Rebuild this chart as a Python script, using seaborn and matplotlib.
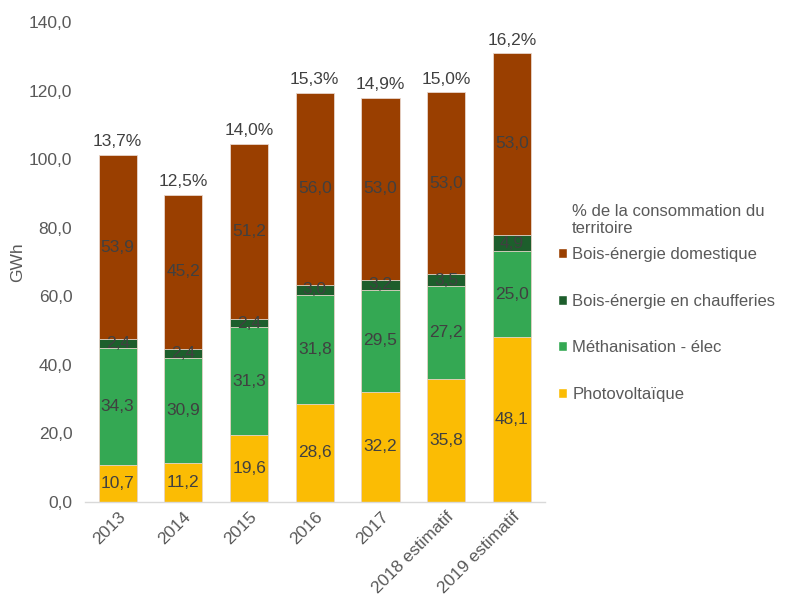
import numpy as np
import pandas as pd
import matplotlib
matplotlib.use("Agg")
import matplotlib.pyplot as plt
import seaborn as sns
from matplotlib.patches import Patch

years = ["2013", "2014", "2015", "2016", "2017", "2018 estimatif", "2019 estimatif"]
photovoltaique = [10.7, 11.2, 19.6, 28.6, 32.2, 35.8, 48.1]
methanisation = [34.3, 30.9, 31.3, 31.8, 29.5, 27.2, 25.0]
chaufferies = [2.4, 2.4, 2.4, 3.0, 3.2, 3.5, 4.9]
domestique = [53.9, 45.2, 51.2, 56.0, 53.0, 53.0, 53.0]
pct_labels = ["13,7%", "12,5%", "14,0%", "15,3%", "14,9%", "15,0%", "16,2%"]

series_names = ["Photovoltaïque", "Méthanisation - élec", "Bois-énergie en chaufferies", "Bois-énergie domestique"]
series_vals = [photovoltaique, methanisation, chaufferies, domestique]
colors = ["#FBBC04", "#34A853", "#1D5E2C", "#9A3F00"]

sns.set_style("white")
plt.rcParams["font.family"] = ["Liberation Sans", "DejaVu Sans"]

FS = 12.5
LFS = 12.0
fig = plt.figure(figsize=(7.85, 6.01), dpi=100)
ax = fig.add_axes([0.108, 0.165, 0.586, 0.798])

arr = np.array(series_vals)
cum = np.cumsum(arr, axis=0)

for i in range(len(series_names) - 1, -1, -1):
    df = pd.DataFrame({"year": years, "val": cum[i]})
    sns.barplot(data=df, x="year", y="val", color=colors[i], width=0.58,
                ax=ax, saturation=1, edgecolor="#E8D6CC", linewidth=0.6)

for j in range(len(years)):
    for i in range(len(series_names)):
        mid = cum[i, j] - arr[i, j] / 2
        ax.text(j, mid, f"{arr[i, j]:.1f}".replace(".", ","), ha="center", va="center",
                fontsize=FS, color="#404040")
    ax.text(j, cum[-1, j] + 1.6, pct_labels[j], ha="center", va="bottom",
            fontsize=FS, color="#404040")

ax.set_ylim(0, 140)
ax.set_xlim(-0.5, len(years) - 0.5)
ax.set_yticks(np.arange(0, 141, 20))
ax.set_yticklabels([f"{v:.1f}".replace(".", ",") for v in np.arange(0, 141, 20)])
ax.set_xlabel("")
ax.set_ylabel("GWh", fontsize=FS, color="#595959", labelpad=3)
ax.tick_params(axis="y", labelsize=FS, labelcolor="#595959", length=0, pad=9)
ax.tick_params(axis="x", labelsize=FS, labelcolor="#595959", length=0, pad=5)
plt.setp(ax.get_xticklabels(), rotation=45, ha="right", rotation_mode="anchor")
for s in ["top", "right", "left"]:
    ax.spines[s].set_visible(False)
ax.spines["bottom"].set_color("#D9D9D9")
ax.spines["bottom"].set_linewidth(1)

# legend title as separate text
fig.text(572 / 785, 1 - 204 / 601, "% de la consommation du\nterritoire", ha="left", va="top",
         fontsize=LFS, color="#595959", linespacing=1.15)

handles = [Patch(facecolor=colors[i], label=series_names[i]) for i in range(3, -1, -1)]
leg = fig.legend(handles=handles, loc="upper left", bbox_to_anchor=(558 / 785, 1 - 247 / 601),
                 frameon=False, fontsize=LFS, labelspacing=1.9, borderpad=0, borderaxespad=0,
                 handlelength=0.55, handleheight=0.55, handletextpad=0.3,
                 labelcolor="#595959")

fig.savefig("out.png", dpi=100)
